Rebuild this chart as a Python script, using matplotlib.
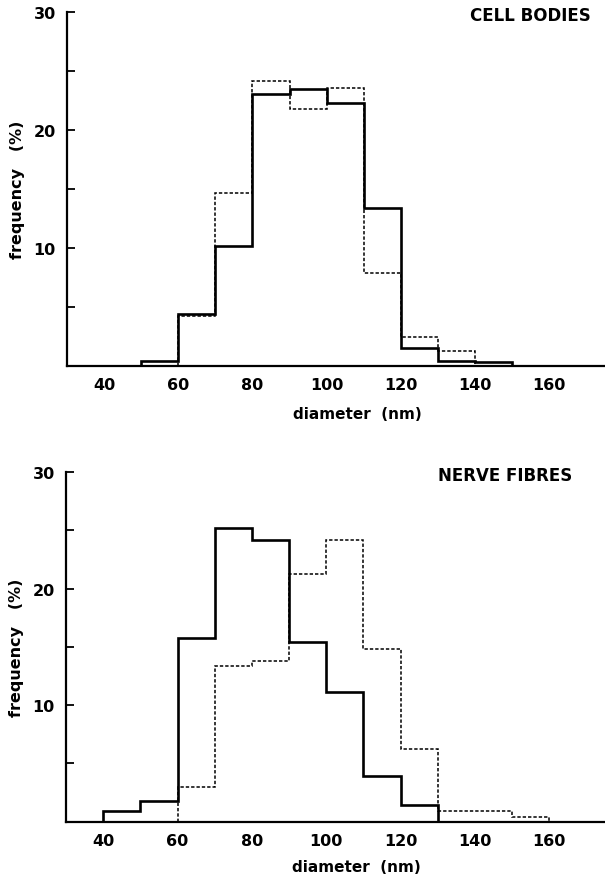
import matplotlib
matplotlib.use("Agg")
import matplotlib.pyplot as plt
import numpy as np

# ---- data (frequency %, 10 nm bins) ----
cell_solid_start = 50
cell_solid = [0.4, 4.4, 10.2, 23.1, 23.5, 22.3, 13.4, 1.5, 0.4, 0.3]
cell_dashed_start = 60
cell_dashed = [4.2, 14.7, 24.2, 21.8, 23.6, 7.9, 2.5, 1.3]

nerve_solid_start = 40
nerve_solid = [0.95, 1.75, 15.8, 25.2, 24.2, 15.4, 11.1, 3.9, 1.4]
nerve_dashed_start = 60
nerve_dashed = [3.0, 13.35, 13.8, 21.3, 24.2, 14.8, 6.2, 0.95, 0.95, 0.4]

bin_width = 10
x_ticks = [40, 60, 80, 100, 120, 140, 160]
y_ticks = [10, 20, 30]
y_minor = [5, 15, 25]
titles = ["CELL BODIES", "NERVE FIBRES"]
xlabel = "diameter  (nm)"
ylabel = "frequency   (%)"

plt.rcParams['font.family'] = ['DejaVu Sans']

fig = plt.figure(figsize=(6.05, 8.78), dpi=100)
ax1 = fig.add_axes([0.1107, 0.582, 0.8893, 0.403])
ax2 = fig.add_axes([0.1091, 0.063, 0.8909, 0.398])


def edges(start, vals):
    return start + bin_width * np.arange(len(vals) + 1)


panels = [
    (ax1, cell_solid_start, cell_solid, cell_dashed_start, cell_dashed,
     titles[0], (530 / 605, 1 - 16 / 878), -0.135),
    (ax2, nerve_solid_start, nerve_solid, nerve_dashed_start, nerve_dashed,
     titles[1], (505 / 605, 1 - 476 / 878), -0.128),
]

for ax, s0, sv, d0, dv, title, tpos, xl_y in panels:
    ax.stairs(dv, edges(d0, dv), baseline=0, color='black', lw=1.1,
              linestyle=(0, (2.2, 1.3)))
    ax.stairs(sv, edges(s0, sv), baseline=0, color='black', lw=1.9)
    ax.set_xlim(30, 175)
    ax.set_ylim(0, 30)
    for side in ['top', 'right']:
        ax.spines[side].set_visible(False)
    for side in ['left', 'bottom']:
        ax.spines[side].set_linewidth(1.6)
    ax.set_xticks(x_ticks)
    ax.set_xticklabels([str(t) for t in x_ticks], fontsize=11.5, fontweight='bold')
    ax.tick_params(axis='x', length=0, pad=8)
    ax.set_yticks(y_ticks)
    ax.set_yticks(y_minor, minor=True)
    ax.set_yticklabels([str(t) for t in y_ticks], fontsize=11.5, fontweight='bold')
    ax.tick_params(axis='y', which='both', direction='in', length=6, width=1.3, pad=8)
    ax.set_xlabel(xlabel, fontsize=11, fontweight='bold')
    ax.xaxis.label.set_va('center')
    ax.xaxis.set_label_coords(0.539, xl_y)
    ax.set_ylabel(ylabel, fontsize=11.5, fontweight='bold', labelpad=6)
    fig.text(tpos[0], tpos[1], title, ha='center', va='center',
             fontsize=12, fontweight='bold')
    ax.patch.set_alpha(0)

fig.savefig("out.png", dpi=100)
